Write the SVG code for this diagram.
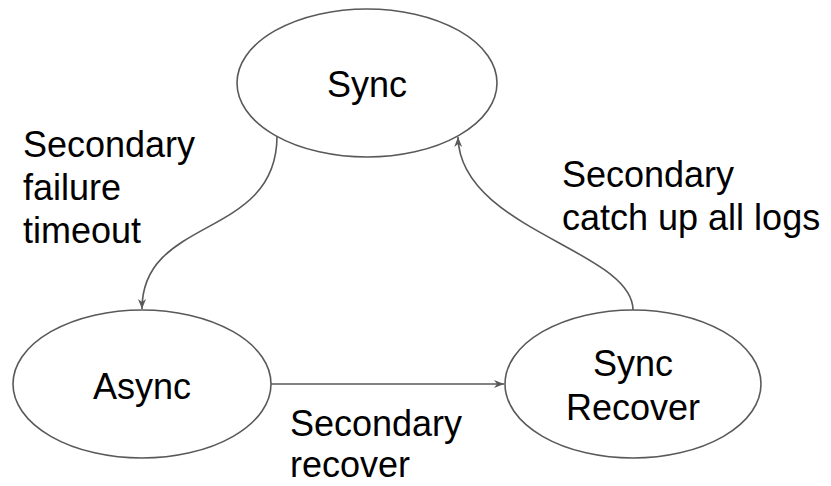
<svg xmlns="http://www.w3.org/2000/svg" width="831" height="486" viewBox="0 0 831 486">
  <style>
    .state { fill: #ffffff; stroke: #595959; stroke-width: 1.6; }
    .edge { fill: none; stroke: #595959; stroke-width: 1.6; }
    text { font-family: "Liberation Sans", Arial, sans-serif; font-size: 36px; fill: #000000; }
    .mid { text-anchor: middle; }
  </style>
  <defs>
    <marker id="arrow" markerUnits="userSpaceOnUse" markerWidth="12" markerHeight="10" refX="11" refY="5" orient="auto">
      <path d="M1,1 L11,5 L1,9 L4,5 Z" fill="#595959"/>
    </marker>
  </defs>

  <g id="edges">
    <path class="edge" d="M277,136 C277,240 142,215 142,309" marker-end="url(#arrow)"/>
    <path class="edge" d="M271,384 L504,384" marker-end="url(#arrow)"/>
    <path class="edge" d="M633,310 C633,250 460,230 458,137" marker-end="url(#arrow)"/>
  </g>

  <g id="sync">
    <ellipse class="state" cx="367" cy="83" rx="130" ry="74"/>
    <text class="mid" x="367" y="97">Sync</text>
  </g>

  <g id="async">
    <ellipse class="state" cx="142" cy="384" rx="129" ry="74"/>
    <text class="mid" x="142" y="399">Async</text>
  </g>

  <g id="sync-recover">
    <ellipse class="state" cx="633" cy="384" rx="128" ry="74"/>
    <text class="mid" x="633" y="376">Sync</text>
    <text class="mid" x="633" y="420">Recover</text>
  </g>

  <g id="labels">
    <text x="23" y="157">Secondary</text>
    <text x="23" y="200">failure</text>
    <text x="23" y="243">timeout</text>
    <text x="562" y="187">Secondary</text>
    <text x="562" y="230">catch up all logs</text>
    <text x="290" y="436">Secondary</text>
    <text x="290" y="477">recover</text>
  </g>
</svg>
